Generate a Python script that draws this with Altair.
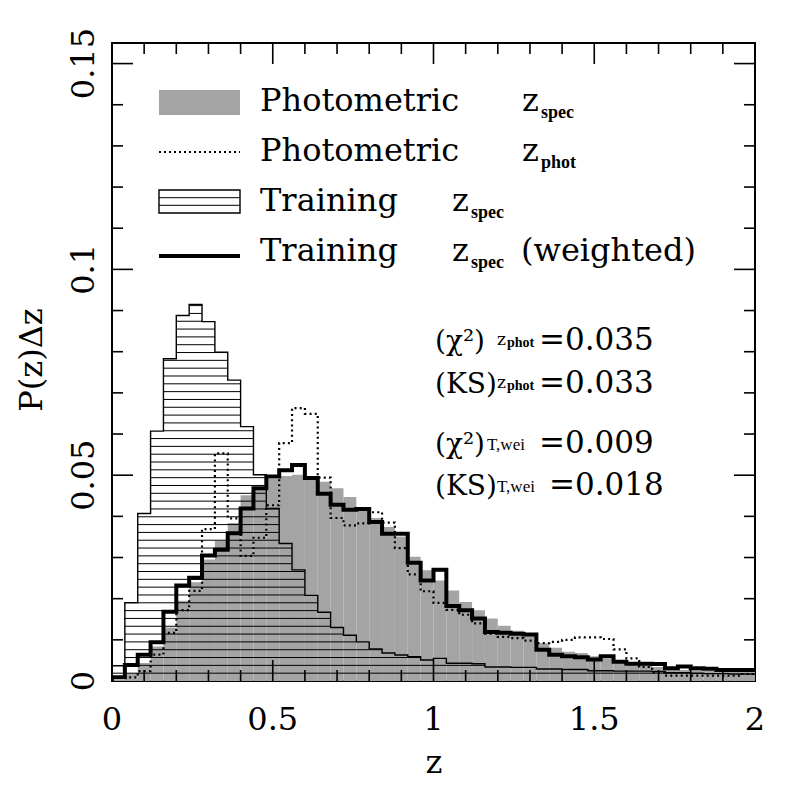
import altair as alt
import pandas as pd

# ---------------- data ----------------
Z_LO = [0.00, 0.04, 0.08, 0.12, 0.16, 0.20, 0.24, 0.28, 0.32, 0.36,
        0.40, 0.44, 0.48, 0.52, 0.56, 0.60, 0.64, 0.68, 0.72, 0.76,
        0.80, 0.84, 0.88, 0.92, 0.96, 1.00, 1.04, 1.08, 1.12, 1.16,
        1.20, 1.24, 1.28, 1.32, 1.36, 1.40, 1.44, 1.48, 1.52, 1.56,
        1.60, 1.64, 1.68, 1.72, 1.76, 1.80, 1.84, 1.88, 1.92, 1.96]
BIN_WIDTH = 0.04

PHOT_ZSPEC = [0.0003, 0.0019, 0.0044, 0.0084, 0.0130, 0.0195, 0.0240, 0.0295, 0.0340, 0.0384,
              0.0451, 0.0471, 0.0491, 0.0498, 0.0501, 0.0493, 0.0484, 0.0468, 0.0447, 0.0423,
              0.0396, 0.0374, 0.0351, 0.0302, 0.0269, 0.0244, 0.0220, 0.0192, 0.0172, 0.0152,
              0.0134, 0.0122, 0.0116, 0.0092, 0.0081, 0.0071, 0.0068, 0.0060, 0.0054, 0.0044,
              0.0041, 0.0039, 0.0034, 0.0028, 0.0027, 0.0026, 0.0025, 0.0024, 0.0024, 0.0023]

PHOT_ZPHOT = [0.0009, 0.0009, 0.0024, 0.0064, 0.0117, 0.0172, 0.0219, 0.0369, 0.0553, 0.0395,
              0.0304, 0.0348, 0.0427, 0.0578, 0.0663, 0.0649, 0.0494, 0.0396, 0.0378, 0.0383,
              0.0410, 0.0385, 0.0323, 0.0259, 0.0218, 0.0190, 0.0173, 0.0161, 0.0140, 0.0115,
              0.0107, 0.0104, 0.0098, 0.0092, 0.0095, 0.0100, 0.0106, 0.0106, 0.0102, 0.0077,
              0.0055, 0.0034, 0.0021, 0.0013, 0.0013, 0.0013, 0.0013, 0.0013, 0.0013, 0.0017]

TRAIN_ZSPEC = [0.0037, 0.0190, 0.0407, 0.0607, 0.0783, 0.0888, 0.0915, 0.0873, 0.0799, 0.0731,
               0.0618, 0.0501, 0.0419, 0.0334, 0.0270, 0.0208, 0.0167, 0.0130, 0.0111, 0.0095,
               0.0078, 0.0068, 0.0063, 0.0059, 0.0051, 0.0055, 0.0043, 0.0043, 0.0042, 0.0034,
               0.0034, 0.0033, 0.0033, 0.0029, 0.0029, 0.0028, 0.0028, 0.0025, 0.0025, 0.0024,
               0.0024, 0.0024, 0.0023, 0.0020, 0.0020, 0.0019, 0.0018, 0.0018, 0.0017, 0.0017]

TRAIN_WEIGHTED = [0.0009, 0.0039, 0.0064, 0.0094, 0.0168, 0.0232, 0.0251, 0.0305, 0.0319, 0.0359,
                  0.0419, 0.0468, 0.0497, 0.0512, 0.0525, 0.0493, 0.0455, 0.0428, 0.0416, 0.0418,
                  0.0386, 0.0358, 0.0358, 0.0287, 0.0244, 0.0270, 0.0182, 0.0172, 0.0152, 0.0119,
                  0.0117, 0.0115, 0.0113, 0.0076, 0.0064, 0.0060, 0.0058, 0.0052, 0.0060, 0.0047,
                  0.0042, 0.0042, 0.0041, 0.0031, 0.0035, 0.0031, 0.0030, 0.0027, 0.0027, 0.0027]

X_LABEL_VALUES = [0, 0.5, 1, 1.5, 2]
X_LABEL_TEXT = ["0", "0.5", "1", "1.5", "2"]
Y_LABEL_VALUES = [0, 0.05, 0.1, 0.15]
Y_LABEL_TEXT = ["0", "0.05", "0.1", "0.15"]
X_MINOR = [0.1, 0.2, 0.3, 0.4, 0.6, 0.7, 0.8, 0.9, 1.1, 1.2, 1.3, 1.4, 1.6, 1.7, 1.8, 1.9]
X_MAJOR = [0.5, 1.0, 1.5]
Y_MINOR = [0.01, 0.02, 0.03, 0.04, 0.06, 0.07, 0.08, 0.09, 0.11, 0.12, 0.13, 0.14]
Y_MAJOR = [0.05, 0.10, 0.15]
X_TITLE = "z"
Y_TITLE = "P(z)Δz"

LEGEND = [("Photometric", "z", "spec", ""),
          ("Photometric", "z", "phot", ""),
          ("Training", "z", "spec", ""),
          ("Training", "z", "spec", "(weighted)")]

STATS = [("(χ²)", "z", "phot", "=0.035"),
         ("(KS)", "z", "phot", "=0.033"),
         ("(χ²)", "T,wei", "", "=0.009"),
         ("(KS)", "T,wei", "", "=0.018")]

# ---------------- layout ----------------
W, H = 643, 638
OX, OY = 112, 43          # plot origin on the page
FONT = "DejaVu Serif"
SUBFONT = "Liberation Serif"
GRAY = "#a4a4a4"
HATCH_STEP = 0.0019

xs = alt.Scale(domain=[0, 2], nice=False, zero=False)
ys = alt.Scale(domain=[0, 0.155], nice=False, zero=False)

z_hi = [round(lo + BIN_WIDTH, 4) for lo in Z_LO]


def step_df(values):
    xs_ = [0.0] + Z_LO + [2.0]
    ys_ = [0.0] + list(values) + [values[-1]]
    return pd.DataFrame({"x": xs_, "y": ys_, "i": list(range(len(xs_)))})


# ---------------- gray filled histogram (one step area, no seams) ----------------
gray = alt.Chart(step_df(PHOT_ZSPEC)).mark_area(
    interpolate="step-after", color=GRAY, opacity=1, clip=True).encode(
    x=alt.X("x:Q", scale=xs, axis=None),
    y=alt.Y("y:Q", scale=ys, axis=None),
    order="i:Q")

# ---------------- hatch lines for the training histogram ----------------
segs = []
k = 1
while k * HATCH_STEP < max(TRAIN_ZSPEC):
    level = k * HATCH_STEP
    start = None
    for i, v in enumerate(TRAIN_ZSPEC):
        if v > level:
            if start is None:
                start = Z_LO[i]
            end = z_hi[i]
        elif start is not None:
            segs.append((start, end, level))
            start = None
    if start is not None:
        segs.append((start, end, level))
    k += 1
df_hatch = pd.DataFrame(segs, columns=["lo", "hi", "level"])
hatch = alt.Chart(df_hatch).mark_rule(color="black", strokeWidth=1).encode(
    x=alt.X("lo:Q", scale=xs, axis=None), x2="hi:Q",
    y=alt.Y("level:Q", scale=ys, axis=None))


def step_line(values, **kw):
    return alt.Chart(step_df(values)).mark_line(
        interpolate="step-after", color="black", clip=True, **kw).encode(
        x=alt.X("x:Q", scale=xs, axis=None),
        y=alt.Y("y:Q", scale=ys, axis=None),
        order="i:Q")


train_line = step_line(TRAIN_ZSPEC, strokeWidth=1.4)
zphot_line = step_line(PHOT_ZPHOT, strokeWidth=2.2, strokeDash=[2, 3.2])
weighted_line = step_line(TRAIN_WEIGHTED, strokeWidth=4, strokeJoin="miter")

# ---------------- inward ticks on all four sides ----------------
def ticks(vals, side, length):
    d = pd.DataFrame({"t": vals})
    c = alt.Chart(d).mark_rule(color="black", strokeWidth=1.6)
    if side == "bottom":
        return c.encode(x=alt.X("t:Q", scale=xs, axis=None), y=alt.value(H), y2=alt.value(H - length))
    if side == "top":
        return c.encode(x=alt.X("t:Q", scale=xs, axis=None), y=alt.value(0), y2=alt.value(length))
    if side == "left":
        return c.encode(y=alt.Y("t:Q", scale=ys, axis=None), x=alt.value(0), x2=alt.value(length))
    return c.encode(y=alt.Y("t:Q", scale=ys, axis=None), x=alt.value(W), x2=alt.value(W - length))


tick_layers = []
for side in ["bottom", "top"]:
    tick_layers.append(ticks(X_MINOR, side, 11))
    tick_layers.append(ticks(X_MAJOR, side, 21))
for side in ["left", "right"]:
    tick_layers.append(ticks(Y_MINOR, side, 11))
    tick_layers.append(ticks(Y_MAJOR, side, 21))

# ---------------- tick labels (from the label arrays) ----------------
x_labels = alt.Chart(pd.DataFrame({"t": X_LABEL_VALUES, "s": X_LABEL_TEXT})).mark_text(
    font=FONT, fontSize=32, color="black", align="center", baseline="alphabetic").encode(
    x=alt.X("t:Q", scale=xs, axis=None), y=alt.value(730 - OY), text="s:N")
y_labels = alt.Chart(pd.DataFrame({"t": Y_LABEL_VALUES, "s": Y_LABEL_TEXT})).mark_text(
    font=FONT, fontSize=32, color="black", align="center", baseline="alphabetic", angle=270).encode(
    y=alt.Y("t:Q", scale=ys, axis=None), x=alt.value(94 - OX), text="s:N")

# ---------------- legend & annotations (pixel positions) ----------------
DUMMY = pd.DataFrame({"a": [0]})


def txt(s, px, py, size, weight="normal", font=FONT, angle=0, align="left"):
    return alt.Chart(DUMMY).mark_text(
        font=font, fontSize=size, fontWeight=weight, color="black", angle=angle,
        align=align, baseline="alphabetic").encode(
        x=alt.value(px - OX), y=alt.value(py - OY), text=alt.value(s))


def hrule(x1, x2, y, **kw):
    return alt.Chart(DUMMY).mark_rule(color="black", **kw).encode(
        x=alt.value(x1 - OX), x2=alt.value(x2 - OX), y=alt.value(y - OY))


titles = [txt(X_TITLE, 434, 773, 32, align="center"),
          txt(Y_TITLE, 42, 360, 32, angle=270, align="center")]

LX1, LX2 = 159, 240
legend = [
    alt.Chart(DUMMY).mark_rect(color=GRAY).encode(
        x=alt.value(LX1 - OX), x2=alt.value(LX2 - OX), y=alt.value(90 - OY), y2=alt.value(115 - OY)),
    hrule(LX1, LX2, 152, strokeWidth=2, strokeDash=[2, 3]),
    alt.Chart(DUMMY).mark_rect(fill="white", stroke="black", strokeWidth=1.4).encode(
        x=alt.value(LX1 - OX), x2=alt.value(LX2 - OX), y=alt.value(190 - OY), y2=alt.value(213 - OY)),
    hrule(LX1, LX2, 197.7, strokeWidth=1),
    hrule(LX1, LX2, 205.3, strokeWidth=1),
    hrule(LX1, LX2, 256, strokeWidth=4),
]
leg_base = [111, 161, 211, 261]
for (word, zz, sub, extra), by in zip(LEGEND, leg_base):
    zx = 522 if word == "Photometric" else 452
    legend.append(txt(word, 260, by, 32))
    legend.append(txt(zz, zx, by, 32))
    legend.append(txt(sub, zx + 19, by + 7, 18, "bold", font=SUBFONT))
    if extra:
        legend.append(txt(extra, 521, by, 32))

stats = []
base_y = [350, 393, 453, 495]
for (lhs, sup, sub, rhs), by in zip(STATS, base_y):
    stats.append(txt(lhs, 435, by, 28))
    if sub:
        stats.append(txt(sup, 497, by - 5, 17))
        stats.append(txt(sub, 507, by - 3, 14, "bold", font=SUBFONT))
        stats.append(txt(rhs, 539, by, 31))
    else:
        sx = 487 if "χ" in lhs else 497
        stats.append(txt(sup, sx, by - 3, 17, font=SUBFONT))
        stats.append(txt(rhs, sx + 52, by, 31))

chart = alt.layer(
    gray, hatch, train_line, zphot_line, weighted_line, *tick_layers,
    x_labels, y_labels, *titles, *legend, *stats
).properties(
    width=W, height=H,
    autosize=alt.AutoSizeParams(type="none"),
    padding={"left": OX - 8, "top": OY - 8, "right": 30, "bottom": 100},
    background="white",
).configure_view(stroke="black", strokeWidth=2)

chart.save("out.html", embed_options={"renderer": "svg", "actions": False})
